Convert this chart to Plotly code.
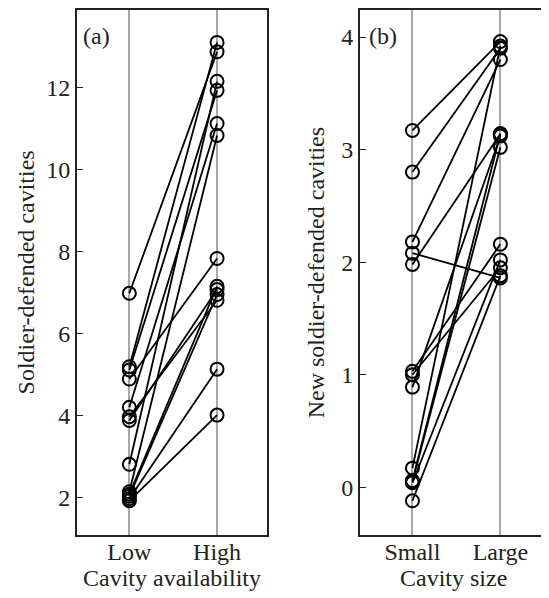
import plotly.graph_objects as go

# Panel (a): cavity availability
cats_a = ["Low", "High"]
low_a = [6.98, 5.19, 5.11, 4.89, 4.20, 3.97, 3.88, 2.81, 2.14, 2.08, 2.03, 1.97, 1.92]
high_a = [12.87, 13.10, 11.93, 7.83, 11.12, 6.81, 7.07, 12.15, 10.83, 7.15, 6.95, 5.13, 4.01]

# Panel (b): cavity size
cats_b = ["Small", "Large"]
small_b = [3.17, 2.80, 2.18, 2.08, 1.98, 1.03, 1.00, 0.89, 0.17, 0.06, 0.05, 0.04, -0.12]
large_b = [3.96, 3.90, 3.80, 1.86, 3.14, 2.16, 1.95, 3.12, 3.92, 3.14, 3.02, 2.02, 1.88]

yticks_a = [2, 4, 6, 8, 10, 12]
yticks_b = [0, 1, 2, 3, 4]

FONT = "Liberation Serif"
FS = 24
OFF = 8  # page body margin offset


def pairs(a, b):
    xs, ys = [], []
    for u, v in zip(a, b):
        xs += [0, 1, None]
        ys += [u, v, None]
    return xs, ys


fig = go.Figure()
xa, ya = pairs(low_a, high_a)
fig.add_trace(go.Scatter(x=xa, y=ya, xaxis="x", yaxis="y", mode="lines+markers",
                         line=dict(color="black", width=1.8),
                         marker=dict(symbol="circle-open", size=13, color="black",
                                     line=dict(width=2, color="black")),
                         showlegend=False))
xb, yb = pairs(small_b, large_b)
fig.add_trace(go.Scatter(x=xb, y=yb, xaxis="x2", yaxis="y2", mode="lines+markers",
                         line=dict(color="black", width=1.8),
                         marker=dict(symbol="circle-open", size=13, color="black",
                                     line=dict(width=2, color="black")),
                         showlegend=False))

W, H = 549 - OFF, 598 - OFF
T, B = 0, 63
axis_common = dict(showline=True, linecolor="#222", linewidth=1.5, mirror=True,
                   zeroline=False, tickfont=dict(family=FONT, size=FS, color="#222"))


def px(p):
    return (p - OFF) / W


def py(p):
    return (H - B - (p - OFF)) / (H - T - B)


fig.update_layout(
    width=W, height=H,
    margin=dict(l=0, r=0, t=T, b=B),
    paper_bgcolor="white", plot_bgcolor="white",
    font=dict(family=FONT, size=FS, color="#222"),
    xaxis=dict(domain=[px(77), px(268)], range=[-0.6, 1.57], tickvals=[0, 1], ticktext=cats_a,
               showgrid=True, gridcolor="#a8a8a8", gridwidth=2, ticks="", anchor="y",
               ticklabelstandoff=-6, **axis_common),
    yaxis=dict(range=[1.085, 13.89], tickvals=yticks_a, ticks="inside", ticklen=7,
               tickcolor="#222", tickwidth=1.2, showgrid=False, anchor="x", **axis_common),
    xaxis2=dict(domain=[px(361), 1.0], range=[-0.6, 1.53], tickvals=[0, 1], ticktext=cats_b,
                showgrid=True, gridcolor="#a8a8a8", gridwidth=2, ticks="", anchor="y2",
                ticklabelstandoff=-6, **axis_common),
    yaxis2=dict(range=[-0.424, 4.24], tickvals=yticks_b, ticks="inside", ticklen=7,
                tickcolor="#222", tickwidth=1.2, showgrid=False, anchor="x2", **axis_common),
    annotations=[
        dict(text="(a)", x=0.02, y=0.95, xref="x domain", yref="y domain", showarrow=False,
             xanchor="left", yanchor="middle", font=dict(family=FONT, size=FS, color="#222")),
        dict(text="(b)", x=0.04, y=0.95, xref="x2 domain", yref="y2 domain", showarrow=False,
             xanchor="left", yanchor="middle", font=dict(family=FONT, size=FS, color="#222")),
        dict(text="Soldier-defended cavities", x=px(26), y=0.5, xref="paper", yref="y domain",
             textangle=-90, showarrow=False, xanchor="center", yanchor="middle",
             font=dict(family=FONT, size=FS, color="#222")),
        dict(text="New soldier-defended cavities", x=px(317), y=0.5, xref="paper", yref="y2 domain",
             textangle=-90, showarrow=False, xanchor="center", yanchor="middle",
             font=dict(family=FONT, size=FS, color="#222")),
        dict(text="Cavity availability", x=0.5, y=py(578), xref="x domain", yref="paper",
             showarrow=False, xanchor="center", yanchor="middle",
             font=dict(family=FONT, size=FS, color="#222")),
        dict(text="Cavity size", x=0.5, y=py(578), xref="x2 domain", yref="paper",
             showarrow=False, xanchor="center", yanchor="middle",
             font=dict(family=FONT, size=FS, color="#222")),
    ],
)

fig.write_html("out.html")
